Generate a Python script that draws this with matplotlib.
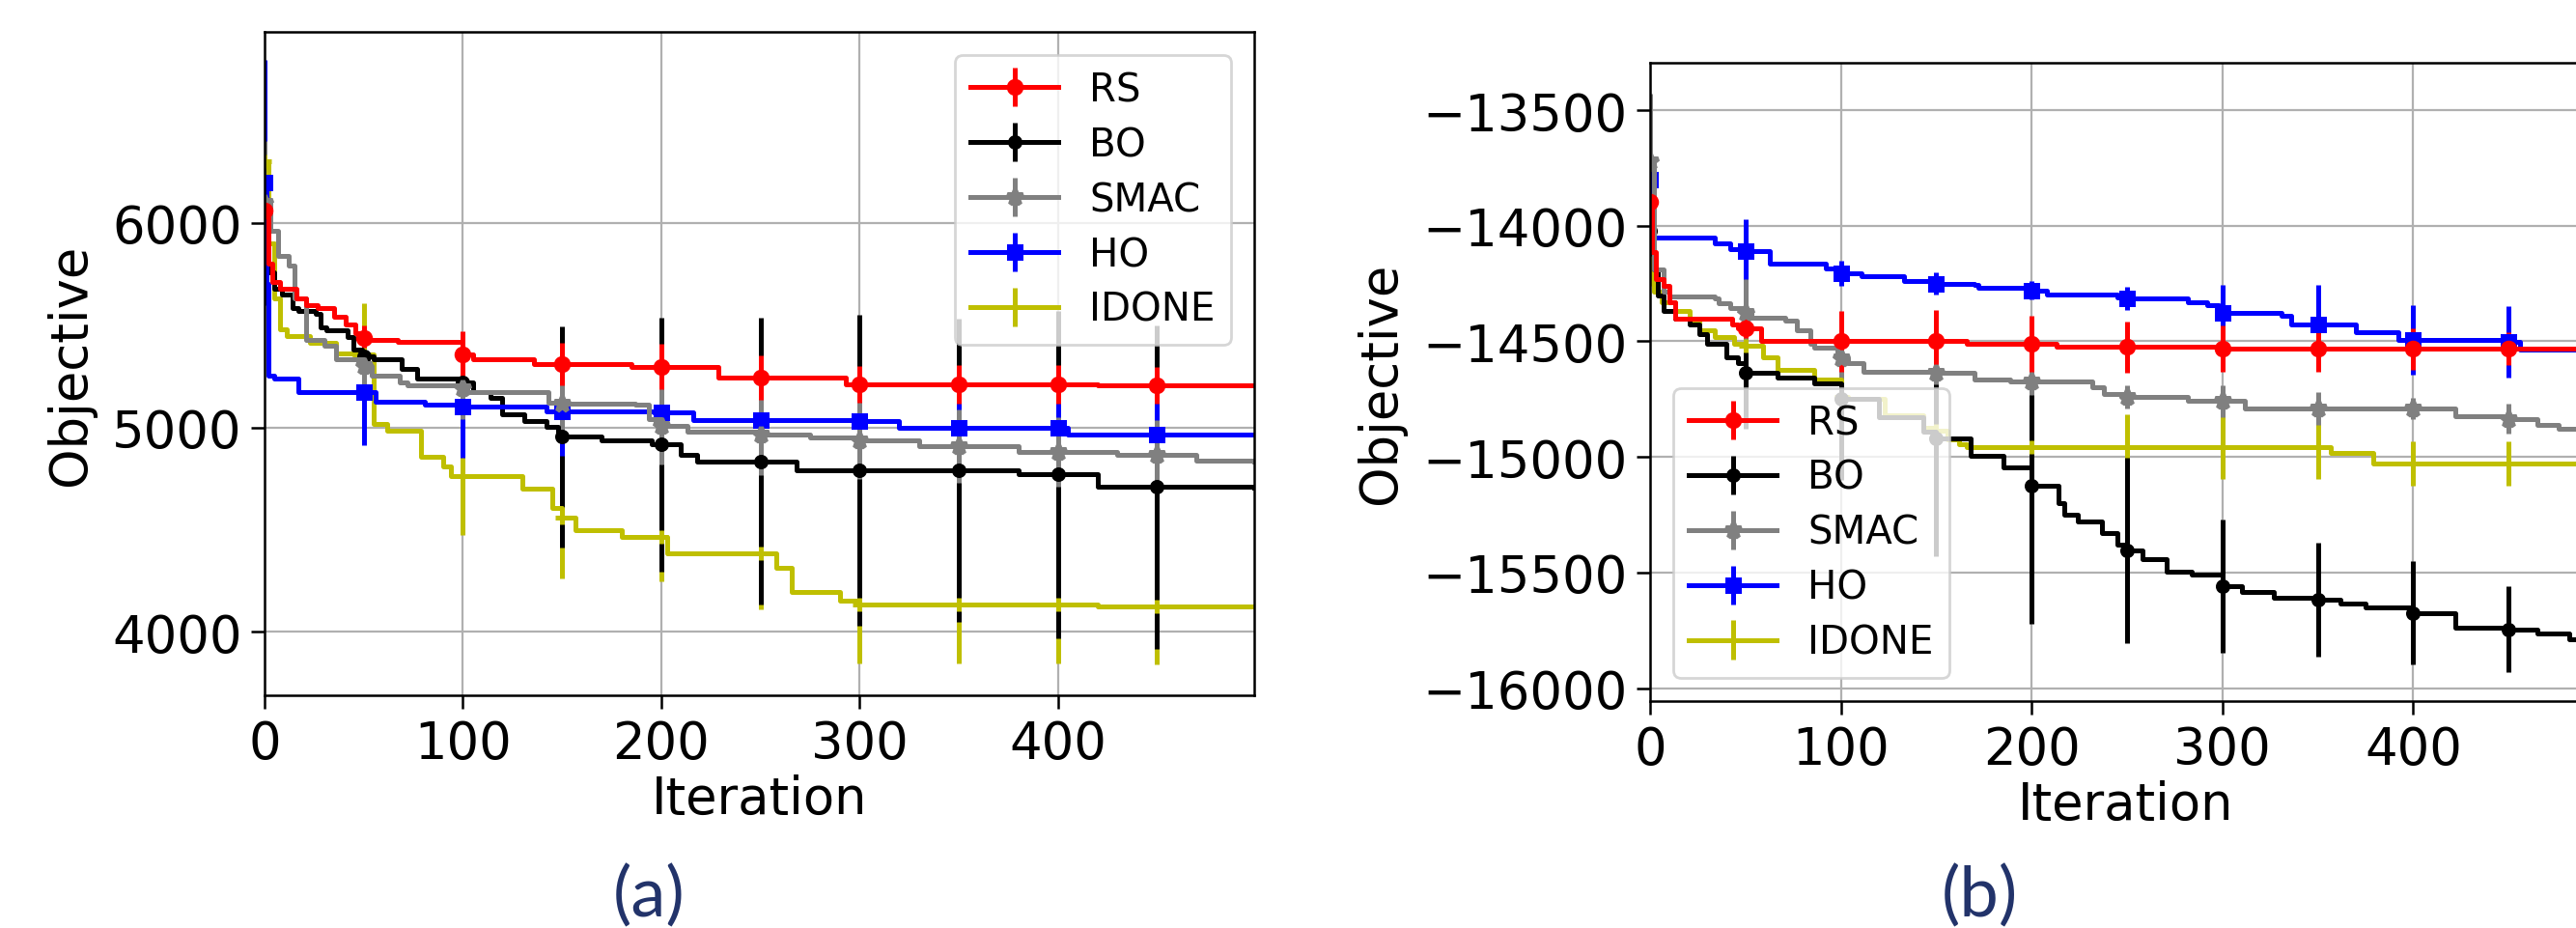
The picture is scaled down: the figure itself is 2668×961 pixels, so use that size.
import numpy as np
import matplotlib
matplotlib.use("Agg")
import matplotlib.pyplot as plt

# iterations where the markers / error bars sit
MARK_X = [0, 50, 100, 150, 200, 250, 300, 350, 400, 450]

# ---- panel (a): step curves as (iteration, objective) breakpoints ----
RS_A_X = [0, 2, 4, 8, 16, 21, 27, 35, 41, 46, 50, 53, 67, 100, 105, 136, 150, 185, 200, 229, 250, 293, 300, 350, 400, 420, 450, 499]
RS_A_Y = [6060, 5800, 5710, 5680, 5632, 5600, 5585, 5540, 5506, 5460, 5440, 5427, 5420, 5357, 5333, 5309, 5309, 5297, 5297, 5245, 5245, 5212, 5212, 5212, 5212, 5205, 5205, 5205]
RS_A_ERR = [150, 60, 115, 105, 110, 110, 90, 95, 95, 90]

BO_A_X = [0, 2, 5, 9, 14, 17, 26, 28, 31, 42, 45, 49, 50, 55, 69, 77, 100, 105, 114, 120, 131, 142, 148, 150, 170, 195, 200, 210, 218, 250, 268, 300, 350, 380, 400, 420, 450, 499]
BO_A_Y = [6100, 5760, 5680, 5650, 5585, 5569, 5554, 5491, 5475, 5443, 5380, 5349, 5349, 5333, 5286, 5238, 5222, 5175, 5144, 5065, 5033, 5002, 4955, 4955, 4939, 4916, 4916, 4864, 4835, 4835, 4791, 4791, 4791, 4770, 4770, 4708, 4708, 4705]
BO_A_ERR = [300, 120, 180, 540, 620, 700, 760, 740, 800, 790]

SMAC_A_X = [0, 3, 7, 12, 15, 21, 30, 36, 50, 54, 68, 72, 100, 102, 140, 143, 150, 187, 194, 200, 213, 250, 275, 300, 330, 350, 380, 400, 430, 450, 470, 499]
SMAC_A_Y = [6100, 5960, 5840, 5790, 5630, 5430, 5400, 5333, 5300, 5254, 5222, 5206, 5190, 5175, 5175, 5120, 5115, 5112, 5040, 5010, 4980, 4965, 4950, 4936, 4910, 4907, 4880, 4878, 4864, 4864, 4840, 4835]
SMAC_A_ERR = [300, 120, 150, 180, 190, 200, 190, 180, 170, 170]

HO_A_X = [0, 1, 2, 5, 17, 50, 56, 81, 100, 142, 150, 196, 200, 216, 250, 300, 320, 350, 400, 405, 450, 499]
HO_A_Y = [6200, 5700, 5254, 5238, 5175, 5175, 5127, 5112, 5104, 5080, 5080, 5075, 5075, 5036, 5036, 5032, 4997, 4997, 4997, 4965, 4965, 4965]
HO_A_ERR = [600, 260, 250, 220, 200, 180, 180, 180, 180, 180]

IDONE_A_X = [0, 2, 5, 8, 11, 23, 36, 45, 50, 55, 62, 79, 90, 94, 100, 130, 145, 150, 157, 180, 200, 203, 250, 258, 266, 290, 300, 350, 400, 420, 450, 499]
IDONE_A_Y = [6300, 5900, 5630, 5480, 5445, 5412, 5364, 5357, 5357, 5018, 4986, 4856, 4810, 4764, 4764, 4701, 4608, 4560, 4497, 4466, 4466, 4386, 4386, 4313, 4197, 4154, 4133, 4133, 4133, 4125, 4125, 4125]
IDONE_A_ERR = [200, 250, 290, 300, 220, 275, 285, 285, 285, 285]

# ---- panel (b) ----
RS_B_X = [0, 1, 3, 7, 10, 13, 43, 46, 50, 58, 100, 150, 166, 200, 213, 250, 300, 350, 400, 450, 499]
RS_B_Y = [-13898, -14115, -14232, -14260, -14330, -14400, -14428, -14442, -14442, -14500, -14500, -14500, -14510, -14510, -14525, -14525, -14530, -14532, -14532, -14532, -14535]
RS_B_ERR = [100, 45, 133, 135, 120, 110, 100, 100, 90, 70]

BO_B_X = [0, 2, 4, 7, 13, 21, 26, 30, 40, 46, 50, 67, 86, 100, 120, 143, 150, 168, 185, 200, 214, 217, 224, 237, 245, 250, 258, 271, 284, 300, 310, 327, 350, 362, 375, 400, 422, 450, 465, 482, 499]
BO_B_Y = [-14020, -14190, -14300, -14370, -14400, -14428, -14470, -14512, -14568, -14596, -14637, -14658, -14680, -14750, -14830, -14890, -14920, -14995, -15046, -15123, -15200, -15251, -15277, -15328, -15380, -15405, -15444, -15495, -15508, -15559, -15585, -15610, -15618, -15636, -15649, -15674, -15738, -15746, -15764, -15790, -15815]
BO_B_ERR = [150, 240, 350, 510, 600, 400, 290, 245, 225, 185]

SMAC_B_X = [0, 2, 7, 10, 34, 36, 42, 50, 53, 71, 77, 84, 86, 98, 100, 104, 112, 150, 170, 189, 200, 232, 238, 247, 250, 282, 300, 312, 350, 400, 422, 450, 465, 476, 499]
SMAC_B_Y = [-13720, -14190, -14287, -14307, -14314, -14335, -14356, -14377, -14398, -14412, -14454, -14512, -14526, -14554, -14575, -14596, -14630, -14637, -14665, -14672, -14675, -14700, -14728, -14740, -14740, -14755, -14759, -14790, -14790, -14790, -14825, -14836, -14860, -14880, -14885]
SMAC_B_ERR = [290, 145, 90, 50, 55, 50, 70, 70, 45, 65]

HO_B_X = [0, 1, 2, 34, 42, 50, 63, 80, 92, 100, 111, 133, 150, 170, 172, 200, 208, 245, 250, 282, 292, 298, 300, 331, 336, 350, 370, 392, 400, 450, 456, 499]
HO_B_Y = [-13800, -13990, -14051, -14077, -14100, -14110, -14163, -14163, -14184, -14205, -14220, -14241, -14251, -14254, -14268, -14280, -14296, -14310, -14315, -14330, -14345, -14375, -14375, -14390, -14426, -14426, -14460, -14495, -14495, -14503, -14536, -14540]
HO_B_ERR = [155, 140, 55, 48, 40, 50, 120, 170, 150, 155]

IDONE_B_X = [0, 2, 6, 13, 21, 26, 34, 44, 50, 59, 67, 86, 100, 104, 123, 143, 150, 156, 162, 166, 200, 250, 300, 350, 357, 379, 400, 450, 499]
IDONE_B_Y = [-14160, -14287, -14330, -14370, -14412, -14454, -14482, -14512, -14519, -14568, -14624, -14665, -14740, -14749, -14819, -14875, -14888, -14923, -14944, -14956, -14956, -14956, -14956, -14956, -14982, -15028, -15028, -15028, -15028]
IDONE_B_ERR = [100, 60, 100, 140, 140, 140, 140, 140, 95, 95]

LABELS = ["RS", "BO", "SMAC", "HO", "IDONE"]
COLORS = {"RS": "r", "BO": "k", "SMAC": "gray", "HO": "b", "IDONE": "y"}
MARKERS = {"RS": ("o", 4.5), "BO": ("o", 3.6), "SMAC": ("*", 6), "HO": ("s", 4.6), "IDONE": ("+", 5)}

LW = 1.8


def draw_curve(ax, xs, ys, err, name):
    xs = np.asarray(xs)
    ys = np.asarray(ys)
    idx = [int(i) for i in np.flatnonzero(np.isin(xs, MARK_X))]
    yerr = np.zeros(len(xs))
    yerr[idx] = err
    m, ms = MARKERS[name]
    return ax.errorbar(xs, ys, yerr=yerr, errorevery=idx, markevery=idx,
                       color=COLORS[name], lw=LW, elinewidth=LW, capsize=0,
                       marker=m, ms=ms, mew=LW, drawstyle="steps-post",
                       label=name)


def make_panel(ax, series, ylim, yticks, legend_loc):
    # draw order decides which error bars sit on top
    handles = {}
    for name in ["IDONE", "BO", "HO", "SMAC", "RS"]:
        xs, ys, err = series[name]
        handles[name] = draw_curve(ax, xs, ys, err, name)
    ax.set_xlim(0, 499)
    ax.set_ylim(*ylim)
    ax.set_xticks([0, 100, 200, 300, 400])
    ax.set_yticks(yticks)
    ax.grid(True, color="#b0b0b0", lw=0.8)
    ax.tick_params(labelsize=19, length=5, width=0.9)
    ax.set_xlabel("Iteration", fontsize=19, labelpad=2)
    ax.set_ylabel("Objective", fontsize=19, labelpad=6)
    for sp in ax.spines.values():
        sp.set_linewidth(0.9)
    ax.legend([handles[n] for n in LABELS], LABELS, loc=legend_loc,
              fontsize=14.5, handlelength=2.25, borderaxespad=0.6,
              labelspacing=0.42)


fig = plt.figure(figsize=(13.34, 4.81), dpi=200)
W, H = 2668, 962

ax_a = fig.add_axes([274 / W, 1 - 721 / H, (1299 - 274) / W, (721 - 34) / H])
ax_b = fig.add_axes([1709 / W, 1 - 727 / H, 986 / W, (727 - 66) / H])

make_panel(ax_a, {
    "RS": (RS_A_X, RS_A_Y, RS_A_ERR),
    "BO": (BO_A_X, BO_A_Y, BO_A_ERR),
    "SMAC": (SMAC_A_X, SMAC_A_Y, SMAC_A_ERR),
    "HO": (HO_A_X, HO_A_Y, HO_A_ERR),
    "IDONE": (IDONE_A_X, IDONE_A_Y, IDONE_A_ERR),
}, (3690, 6935), [4000, 5000, 6000], "upper right")

make_panel(ax_b, {
    "RS": (RS_B_X, RS_B_Y, RS_B_ERR),
    "BO": (BO_B_X, BO_B_Y, BO_B_ERR),
    "SMAC": (SMAC_B_X, SMAC_B_Y, SMAC_B_ERR),
    "HO": (HO_B_X, HO_B_Y, HO_B_ERR),
    "IDONE": (IDONE_B_X, IDONE_B_Y, IDONE_B_ERR),
}, (-16056, -13295), [-16000, -15500, -15000, -14500, -14000, -13500], "lower left")

# sub-figure captions
cap_kw = dict(fontsize=26, color="#22336a", family="Lato", weight="normal",
              ha="center", va="center")
fig.text(672 / W, 1 - 928 / H, "(a)", **cap_kw)
fig.text(2050 / W, 1 - 928 / H, "(b)", **cap_kw)

fig.savefig("out.png", dpi=200)
